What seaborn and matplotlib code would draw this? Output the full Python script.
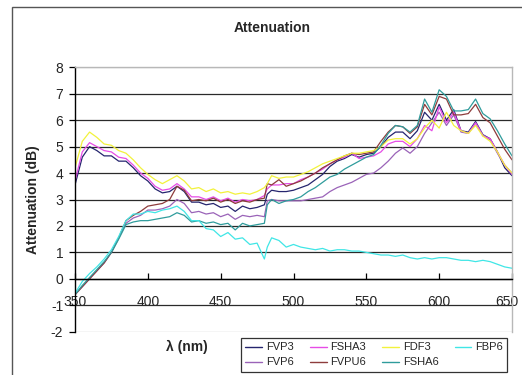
import numpy as np
import pandas as pd
import matplotlib
matplotlib.use("Agg")
import matplotlib.pyplot as plt
from matplotlib.patches import Rectangle
import matplotlib.transforms as mtransforms
import seaborn as sns

# ---------------- data ----------------
wavelength = [350, 355, 360, 365, 370, 375, 380, 385, 390, 395,
              400, 405, 410, 415, 420, 425, 430, 435, 440, 445,
              450, 455, 460, 465, 470, 475, 480, 482, 485, 490,
              495, 500, 505, 510, 515, 520, 525, 530, 535, 540,
              545, 550, 555, 560, 565, 570, 575, 580, 585, 590,
              595, 600, 605, 610, 615, 620, 625, 630, 635, 640,
              645, 650]

FVP3 = [3.55, 4.6, 5.0, 4.85, 4.65, 4.65, 4.45, 4.45, 4.2, 3.9,
        3.7, 3.4, 3.25, 3.3, 3.5, 3.3, 2.9, 2.9, 2.8, 2.85,
        2.7, 2.75, 2.55, 2.75, 2.65, 2.7, 2.8, 3.2, 3.35, 3.3,
        3.3, 3.35, 3.45, 3.55, 3.75, 3.95, 4.25, 4.45, 4.55, 4.7,
        4.6, 4.7, 4.75, 5.0, 5.35, 5.55, 5.55, 5.3, 5.6, 6.3,
        6.0, 6.6, 6.0, 6.4, 5.6, 5.55, 5.95, 5.45, 5.3, 4.8,
        4.2, 3.9]

FSHA3 = [3.7, 4.8, 5.15, 5.0, 4.85, 4.8, 4.6, 4.55, 4.3, 4.0,
         3.8, 3.5, 3.35, 3.4, 3.6, 3.4, 3.1, 3.1, 3.0, 3.1,
         2.95, 3.05, 2.9, 3.0, 2.95, 3.0, 3.15, 3.4, 3.55, 3.55,
         3.6, 3.6, 3.75, 3.85, 4.0, 4.15, 4.35, 4.5, 4.6, 4.75,
         4.55, 4.6, 4.65, 4.8, 5.1, 5.2, 5.2, 5.0, 5.3, 5.8,
         5.6, 6.5, 5.9, 6.3, 5.6, 5.5, 5.9, 5.4, 5.3, 4.8,
         4.3, 3.95]

FDF3 = [4.2, 5.2, 5.55, 5.35, 5.1, 5.05, 4.85, 4.75, 4.5, 4.2,
        3.95, 3.75, 3.6, 3.75, 3.9, 3.7, 3.4, 3.45, 3.3, 3.4,
        3.25, 3.3, 3.2, 3.25, 3.2, 3.3, 3.45, 3.6, 3.9, 3.8,
        3.85, 3.85, 3.95, 4.05, 4.2, 4.35, 4.45, 4.55, 4.65, 4.75,
        4.75, 4.8, 4.85, 5.0, 5.25, 5.3, 5.3, 5.1, 5.3, 5.7,
        6.0, 5.7, 6.3, 5.8, 5.6, 5.5, 5.8, 5.4, 5.2, 4.8,
        4.3, 4.0]

FBP6 = [-0.55, -0.1, 0.2, 0.45, 0.75, 1.1, 1.6, 2.2, 2.45, 2.45,
        2.55, 2.5, 2.6, 2.65, 2.75, 2.55, 2.2, 2.2, 1.9, 1.85,
        1.6, 1.75, 1.5, 1.55, 1.3, 1.35, 0.75, 1.2, 1.55, 1.45,
        1.2, 1.3, 1.2, 1.15, 1.1, 1.15, 1.05, 1.1, 1.1, 1.05,
        1.05, 1.0, 0.95, 0.9, 0.9, 0.85, 0.9, 0.8, 0.75, 0.8,
        0.75, 0.8, 0.8, 0.75, 0.7, 0.7, 0.65, 0.7, 0.65, 0.55,
        0.45, 0.4]

FVP6 = [-0.6, -0.3, 0.0, 0.3, 0.6, 1.0, 1.55, 2.1, 2.3, 2.4,
        2.6, 2.6, 2.65, 2.75, 3.0, 2.85, 2.5, 2.55, 2.45, 2.5,
        2.35, 2.45, 2.25, 2.4, 2.35, 2.4, 2.35, 2.95, 3.0, 2.95,
        2.95, 2.95, 2.95, 3.0, 3.05, 3.1, 3.3, 3.45, 3.55, 3.65,
        3.8, 3.95, 4.0, 4.2, 4.45, 4.75, 4.95, 4.75, 5.0, 5.5,
        5.9, 6.3, 5.8, 6.2, 5.55, 5.5, 5.9, 5.45, 5.25, 4.75,
        4.3, 4.0]

FVPU6 = [-0.6, -0.3, 0.0, 0.3, 0.6, 1.0, 1.55, 2.2, 2.4, 2.55,
         2.75, 2.8, 2.85, 3.0, 3.5, 3.35, 2.95, 3.0, 2.95, 3.05,
         2.9, 3.0, 2.85, 2.95, 2.9, 3.0, 3.05, 3.6, 3.55, 3.75,
         3.5, 3.6, 3.7, 3.85, 4.0, 4.2, 4.35, 4.5, 4.65, 4.75,
         4.7, 4.75, 4.8, 5.2, 5.55, 5.8, 5.75, 5.5, 5.75, 6.6,
         6.2, 6.9, 6.8, 6.2, 6.2, 6.25, 6.6, 6.1, 5.9, 5.4,
         4.9, 4.5]

FSHA6 = [-0.6, -0.25, 0.05, 0.35, 0.65, 1.0, 1.5, 2.05, 2.15, 2.2,
         2.2, 2.25, 2.3, 2.35, 2.5, 2.4, 2.15, 2.2, 2.1, 2.15,
         2.05, 2.1, 1.85, 2.1, 2.0, 2.05, 2.1, 2.8, 3.0, 2.85,
         2.95, 3.0, 3.1, 3.3, 3.45, 3.65, 3.85, 3.95, 4.15, 4.3,
         4.45, 4.6, 4.7, 5.05, 5.5, 5.8, 5.75, 5.55, 5.8, 6.8,
         6.3, 7.15, 6.9, 6.35, 6.35, 6.4, 6.8, 6.25, 6.05, 5.6,
         5.1, 4.65]

series_names = ["FVP3", "FVP6", "FSHA3", "FVPU6", "FDF3", "FSHA6", "FBP6"]
series_values = [FVP3, FVP6, FSHA3, FVPU6, FDF3, FSHA6, FBP6]
colors = {"FVP3": "#25256e", "FSHA3": "#e64ce6", "FDF3": "#f2f23c",
          "FBP6": "#40e6e6", "FVP6": "#9a63b8", "FVPU6": "#8e3c3c",
          "FSHA6": "#2f9c9c"}

y_ticks = [-2, -1, 0, 1, 2, 3, 4, 5, 6, 7, 8]
x_ticks = [350, 400, 450, 500, 550, 600, 650]

df = pd.concat([pd.DataFrame({"wl": wavelength, "att": v, "series": n})
                for n, v in zip(series_names, series_values)], ignore_index=True)

# ---------------- style ----------------
sns.set_style("white")
plt.rcParams["font.family"] = ["Liberation Sans", "DejaVu Sans"]
plt.rcParams["axes.unicode_minus"] = False

W, H = 522, 375
fig = plt.figure(figsize=(W / 100, H / 100), dpi=100)
ax = fig.add_axes([75 / W, 1 - 331.7 / H, 437 / W, (331.7 - 67.3) / H])

# outer chart border (extends past the crop on right/bottom)
fig.patches.append(Rectangle((12 / W, -0.1), 1.2, 1 - 7 / H + 0.1,
                             transform=fig.transFigure, fill=False,
                             edgecolor="#555555", linewidth=1.0, zorder=0))

sns.lineplot(data=df, x="wl", y="att", hue="series", hue_order=series_names,
             palette=colors, linewidth=0.9, ax=ax, estimator=None, sort=False)

ax.set_xlim(350, 650)
ax.set_ylim(-2, 8)
ax.set_yticks(y_ticks)
ax.set_xticks(x_ticks)
ax.set_xlabel("")
ax.set_ylabel("")

ax.grid(axis="y", color="#2a2a2a", linewidth=0.9)
ax.grid(axis="x", visible=False)
ax.set_axisbelow(True)
glines = ax.get_ygridlines()
glines[0].set_color("#b0b0b0")
glines[-1].set_color("#b0b0b0")

for s in ["top", "right"]:
    ax.spines[s].set_visible(True)
    ax.spines[s].set_color("#b8b8b8")
    ax.spines[s].set_linewidth(1.0)
ax.spines["left"].set_color("black")
ax.spines["left"].set_linewidth(1.0)
ax.spines["bottom"].set_position(("data", 0))
ax.spines["bottom"].set_color("black")
ax.spines["bottom"].set_linewidth(1.0)

ax.tick_params(axis="x", direction="in", length=4.5, width=0.9, color="black",
               pad=11.5, labelsize=10, bottom=True)
ax.tick_params(axis="y", direction="out", length=4, width=0.9, color="black",
               pad=4.5, labelsize=10, left=True)

# nudge the last x tick label slightly left so it stays inside the image
last_lbl = ax.get_xticklabels()[-1]
last_lbl.set_transform(last_lbl.get_transform() +
                       mtransforms.ScaledTranslation(-5 / 100, 0, fig.dpi_scale_trans))

fig.text(272 / W, 1 - 28 / H, "Attenuation", ha="center", va="center",
         fontsize=10, fontweight="bold")
fig.text(33 / W, 1 - 199.5 / H, "Attenuation (dB)", ha="center", va="center",
         rotation=90, fontsize=10, fontweight="bold")
fig.text(187 / W, 1 - 347 / H, "λ (nm)", ha="center", va="center",
         fontsize=10, fontweight="bold")

sns.move_legend(ax, loc="upper left", bbox_to_anchor=(241 / W, 1 - 338 / H),
                bbox_transform=fig.transFigure, ncol=4, title=None,
                frameon=True, fontsize=8, handlelength=1.5,
                handletextpad=0.35, columnspacing=1.45, borderpad=0.4,
                labelspacing=0.45, fancybox=False, borderaxespad=0)
leg = ax.get_legend()
leg.get_frame().set_edgecolor("black")
leg.get_frame().set_linewidth(0.9)
for h in leg.get_lines():
    h.set_linewidth(1.0)

fig.savefig("out.png", dpi=100)
